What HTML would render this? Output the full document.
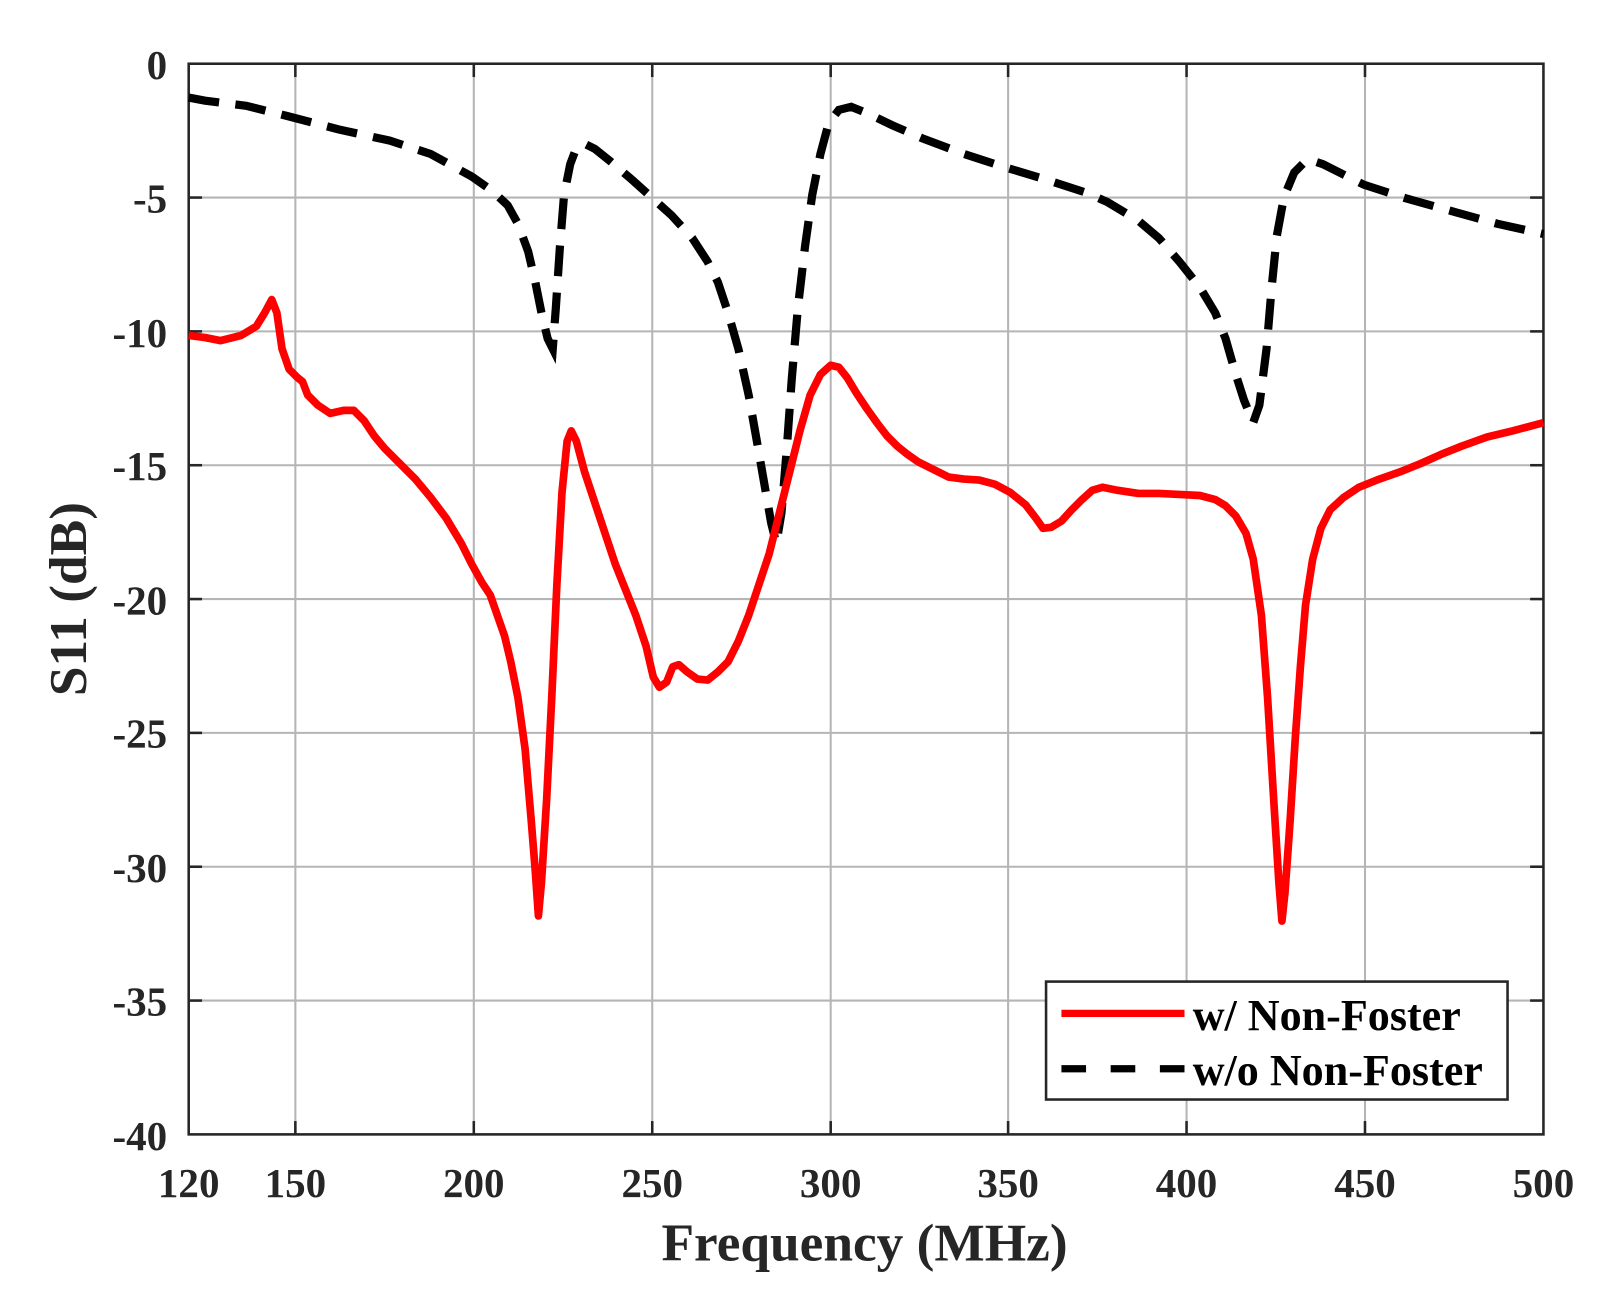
<!DOCTYPE html>
<html><head><style>
html,body{margin:0;padding:0;background:#fff;}
svg{display:block;}
text{font-family:"Liberation Serif",serif;font-weight:bold;fill:#262626;}
</style></head><body>
<svg width="1606" height="1314" viewBox="0 0 1566 1281" xmlns="http://www.w3.org/2000/svg">
<rect width="1566" height="1281" fill="#fff"/>
<g stroke="#b5b5b5" stroke-width="2">
<line x1="288" y1="62" x2="288" y2="1106"/><line x1="462" y1="62" x2="462" y2="1106"/>
<line x1="636" y1="62" x2="636" y2="1106"/><line x1="810" y1="62" x2="810" y2="1106"/>
<line x1="983" y1="62" x2="983" y2="1106"/><line x1="1157" y1="62" x2="1157" y2="1106"/>
<line x1="1331" y1="62" x2="1331" y2="1106"/>
<line x1="184" y1="192.5" x2="1505" y2="192.5"/><line x1="184" y1="323" x2="1505" y2="323"/>
<line x1="184" y1="453.5" x2="1505" y2="453.5"/><line x1="184" y1="584" x2="1505" y2="584"/>
<line x1="184" y1="714.5" x2="1505" y2="714.5"/><line x1="184" y1="845" x2="1505" y2="845"/>
<line x1="184" y1="975.5" x2="1505" y2="975.5"/>
</g>
<g stroke="#262626" stroke-width="2.5">
<line x1="288" y1="1106" x2="288" y2="1093"/><line x1="462" y1="1106" x2="462" y2="1093"/>
<line x1="636" y1="1106" x2="636" y2="1093"/><line x1="810" y1="1106" x2="810" y2="1093"/>
<line x1="983" y1="1106" x2="983" y2="1093"/><line x1="1157" y1="1106" x2="1157" y2="1093"/>
<line x1="1331" y1="1106" x2="1331" y2="1093"/>
<line x1="288" y1="62" x2="288" y2="75"/><line x1="462" y1="62" x2="462" y2="75"/>
<line x1="636" y1="62" x2="636" y2="75"/><line x1="810" y1="62" x2="810" y2="75"/>
<line x1="983" y1="62" x2="983" y2="75"/><line x1="1157" y1="62" x2="1157" y2="75"/>
<line x1="1331" y1="62" x2="1331" y2="75"/>
<line x1="184" y1="192.5" x2="197" y2="192.5"/><line x1="184" y1="323" x2="197" y2="323"/>
<line x1="184" y1="453.5" x2="197" y2="453.5"/><line x1="184" y1="584" x2="197" y2="584"/>
<line x1="184" y1="714.5" x2="197" y2="714.5"/><line x1="184" y1="845" x2="197" y2="845"/>
<line x1="184" y1="975.5" x2="197" y2="975.5"/>
<line x1="1505" y1="192.5" x2="1492" y2="192.5"/><line x1="1505" y1="323" x2="1492" y2="323"/>
<line x1="1505" y1="453.5" x2="1492" y2="453.5"/><line x1="1505" y1="584" x2="1492" y2="584"/>
<line x1="1505" y1="714.5" x2="1492" y2="714.5"/><line x1="1505" y1="845" x2="1492" y2="845"/>
<line x1="1505" y1="975.5" x2="1492" y2="975.5"/>
</g>
<rect x="184" y="62" width="1321" height="1044" fill="none" stroke="#262626" stroke-width="2.5"/>
<polyline fill="none" stroke="#000" stroke-width="8" stroke-dasharray="30,16" points="184,95 200,98 240,103 280,113 330,126 380,137 420,150 460,172 480,186 495,200 505,218 515,245 522,275 528,305 534,330 539,340 542,300 546,240 550,190 556,160 562,144 570,140 580,145 595,157 615,174 635,192 655,210 675,232 690,255 700,275 710,305 720,340 730,385 738,430 745,470 752,510 757,530 762,500 767,440 772,370 778,300 785,240 792,190 800,150 808,120 818,107 830,104 845,110 870,122 900,135 940,150 980,163 1020,175 1060,188 1080,197 1110,215 1130,232 1150,255 1170,280 1185,305 1195,330 1205,365 1213,390 1222,412 1228,395 1235,340 1240,280 1245,230 1252,192 1262,168 1275,155 1290,160 1310,170 1330,180 1370,193 1420,207 1460,218 1505,228"/>
<polyline fill="none" stroke="#ff0000" stroke-width="7.5" stroke-linejoin="round" points="184,327 200,329 215,332 235,327 250,318 258,305 265,292 270,305 275,340 282,360 290,368 295,372 300,385 310,395 322,403 335,400 345,400 355,410 365,425 375,437 390,452 405,467 420,485 435,505 450,530 460,550 470,568 478,580 485,600 492,620 498,645 505,680 512,730 518,800 522,850 525,893 528,860 533,780 538,680 543,570 548,480 553,430 557,420 562,430 570,460 580,490 590,520 600,550 610,575 620,600 630,630 637,660 643,670 650,665 656,650 662,648 670,655 680,662 690,663 700,655 710,645 720,625 730,600 740,570 750,540 760,500 770,460 780,420 790,385 800,365 810,356 818,358 826,368 835,383 845,398 855,412 865,425 875,435 885,443 895,450 905,455 915,460 925,465 940,467 955,468 970,472 985,480 1000,492 1010,505 1017,515 1025,514 1035,508 1045,497 1055,487 1065,478 1075,475 1090,478 1110,481 1130,481 1150,482 1170,483 1185,487 1195,493 1205,503 1215,520 1222,545 1230,600 1236,680 1242,780 1247,860 1250,898 1253,870 1258,800 1263,720 1268,650 1273,590 1280,545 1288,515 1297,497 1310,485 1325,475 1345,467 1365,460 1385,452 1405,443 1425,435 1450,426 1475,420 1505,412"/>
<rect x="1020" y="957" width="450" height="115" fill="#fff" stroke="#262626" stroke-width="2.5"/>
<line x1="1035" y1="988" x2="1155" y2="988" stroke="#ff0000" stroke-width="7"/>
<line x1="1035" y1="1042" x2="1155" y2="1042" stroke="#000" stroke-width="7" stroke-dasharray="24,24"/>
<text x="1163" y="1004" font-size="43" style="fill:#000">w/ Non-Foster</text>
<text x="1163" y="1058" font-size="43" style="fill:#000">w/o Non-Foster</text>
<g font-size="40" text-anchor="end">
<text x="163" y="77">0</text><text x="163" y="207">-5</text><text x="163" y="338">-10</text>
<text x="163" y="468">-15</text><text x="163" y="599">-20</text><text x="163" y="729">-25</text>
<text x="163" y="860">-30</text><text x="163" y="990">-35</text><text x="163" y="1121">-40</text>
</g>
<g font-size="40" text-anchor="middle">
<text x="184" y="1167">120</text><text x="288" y="1167">150</text><text x="462" y="1167">200</text>
<text x="636" y="1167">250</text><text x="810" y="1167">300</text><text x="983" y="1167">350</text>
<text x="1157" y="1167">400</text><text x="1331" y="1167">450</text><text x="1505" y="1167">500</text>
</g>
<text x="843" y="1229" font-size="52" text-anchor="middle">Frequency (MHz)</text>
<text transform="translate(84,584) rotate(-90)" font-size="52" text-anchor="middle">S11 (dB)</text>
</svg>
</body></html>
